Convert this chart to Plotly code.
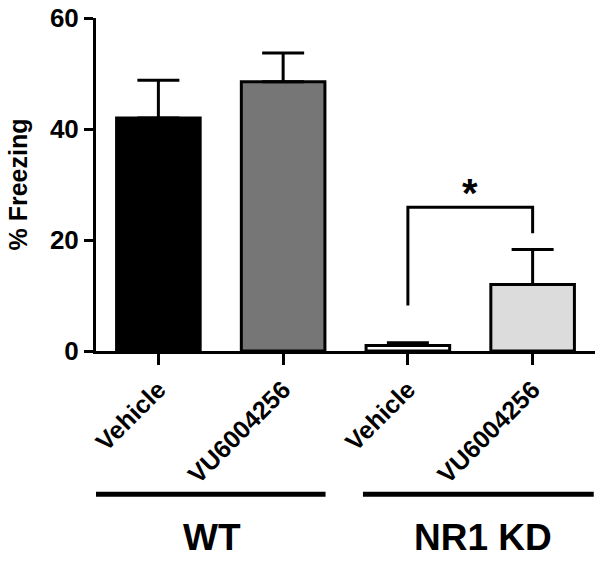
import plotly.graph_objects as go

# ---- data ----
tick_labels = ["Vehicle", "VU6004256", "Vehicle", "VU6004256"]
means = [42.0, 48.5, 1.0, 12.0]
sem_upper = [6.8, 5.2, 0.5, 6.3]
bar_colors = ["#000000", "#767676", "#ffffff", "#dcdcdc"]

groups = ["WT", "NR1 KD"]
group_spans = [(-0.52, 1.34), (1.64, 3.49)]
group_centers = [0.43, 2.6]

# significance bracket (between bar 3 and bar 4)
bracket_x = [2.0, 2.0, 3.0, 3.0]
bracket_y = [8.2, 25.9, 25.9, 21.2]
sig_label = "*"

FONT = "Liberation Sans, Arial, sans-serif"

fig = go.Figure()
fig.add_trace(go.Bar(
    x=[0, 1, 2, 3], y=means, width=0.67,
    marker=dict(color=bar_colors, line=dict(color="black", width=3)),
    error_y=dict(type="data", array=sem_upper, arrayminus=[0]*4, symmetric=False,
                 color="black", thickness=3, width=21),
    showlegend=False, hoverinfo="skip",
))
fig.add_trace(go.Scatter(
    x=bracket_x, y=bracket_y, mode="lines",
    line=dict(color="black", width=3), showlegend=False, hoverinfo="skip",
))
fig.add_annotation(
    x=sum(bracket_x[1:3]) / 2, y=bracket_y[1], xref="x", yref="y",
    text=sig_label, showarrow=False, yanchor="bottom", yshift=-10,
    font=dict(family=FONT, size=40, color="black", weight="bold"),
)

for (x0, x1), c, g in zip(group_spans, group_centers, groups):
    fig.add_shape(type="line", xref="x", yref="paper", x0=x0, x1=x1, y0=-0.43, y1=-0.43,
                  line=dict(color="black", width=5))
    fig.add_annotation(x=c, y=-0.56, xref="x", yref="paper", text=g, showarrow=False,
                       yanchor="middle",
                       font=dict(family=FONT, size=37, color="black", weight="bold"))

fig.update_layout(
    width=604, height=562,
    margin=dict(l=96, r=9, t=18, b=211, autoexpand=False),
    paper_bgcolor="white", plot_bgcolor="white",
    font=dict(family=FONT, color="black"),
)
fig.update_xaxes(
    range=[-0.5, 3.5], tickmode="array", tickvals=[0, 1, 2, 3], ticktext=tick_labels,
    tickangle=-45, ticks="outside", ticklen=11, tickwidth=3, tickcolor="black",
    showline=True, linewidth=3, linecolor="black", showgrid=False, zeroline=False,
    automargin=False,
    tickfont=dict(family=FONT, size=25, color="black", weight="bold"),
)
fig.update_yaxes(
    range=[0, 60], tickvals=[0, 20, 40, 60], ticks="outside", ticklen=9, tickwidth=3,
    tickcolor="black", showline=True, linewidth=3, linecolor="black",
    showgrid=False, zeroline=False, automargin=False,
    tickfont=dict(family=FONT, size=26, color="black", weight="bold"),
    title=dict(text="% Freezing", standoff=16,
               font=dict(family=FONT, size=25, color="black", weight="bold")),
)

fig.write_html("out.html", config={"displayModeBar": False},
               post_script="document.body.style.margin='0';")
